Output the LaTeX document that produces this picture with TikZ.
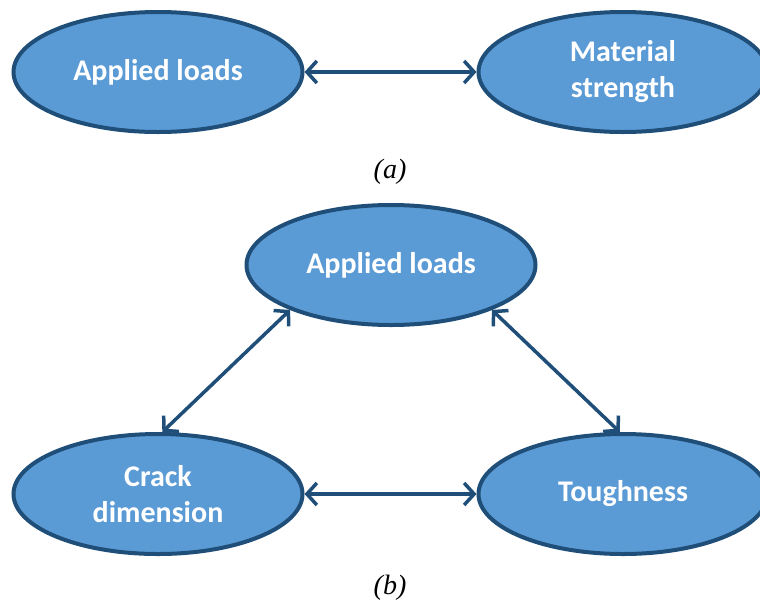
\documentclass[tikz,border=0pt]{standalone}
\usepackage{fontspec}
\setmainfont{Carlito}
\newfontfamily\capfont{Liberation Serif}
\usetikzlibrary{shapes.geometric,arrows.meta}
\definecolor{fillblue}{HTML}{5B9BD5}
\definecolor{edgeblue}{HTML}{1F4E79}
\tikzset{
  bubble/.style={ellipse, draw=edgeblue, fill=fillblue, line width=4pt,
    minimum width=289pt, minimum height=120pt, inner sep=0pt,
    text=white, font=\fontsize{30}{36}\selectfont\bfseries, align=center},
  link/.style={draw=edgeblue, line width=3.5pt,
    {Straight Barb[length=10pt,width=22pt]}-{Straight Barb[length=10pt,width=22pt]}},
  caption/.style={font=\capfont\itshape\fontsize{28}{32}\selectfont}
}
\begin{document}
\begin{tikzpicture}[x=1pt,y=-1pt]
\useasboundingbox (0,0) rectangle (760,606);
\node[bubble] (al1) at (158,72) {Applied loads};
\node[bubble] (ms) at (623,72) {Material\\strength};
\draw[link] (al1) -- (ms);
\node[caption] (ca) at (390,172) {(a)};
\node[bubble] (al2) at (391,265) {Applied loads};
\node[bubble] (cd) at (158,494) {Crack\\dimension};
\node[bubble] (tg) at (623,494) {Toughness};
\draw[link] (cd) -- (tg);
\draw[link] (al2.204) -- (cd.86);
\draw[link] (al2.-24) -- (tg.93);
\node[caption] (cb) at (390,588) {(b)};
\end{tikzpicture}
\end{document}
